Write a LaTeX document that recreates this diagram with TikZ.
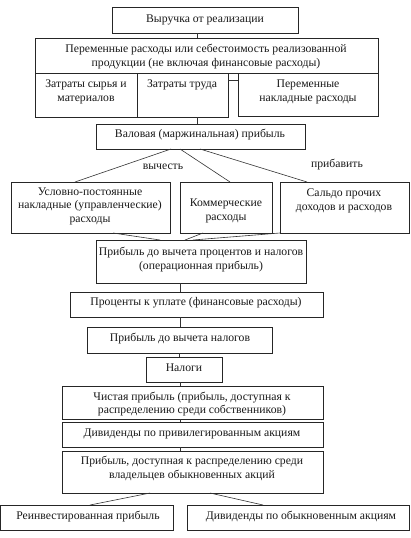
\documentclass[tikz,border=0pt]{standalone}
\usepackage{fontspec}
\setmainfont{Liberation Serif}
\begin{document}
\begin{tikzpicture}[x=1pt,y=-1pt,
  box/.style={draw=black!85, line width=0.7pt, inner sep=0pt, outer sep=0pt, anchor=north west},
  txt/.style={inner sep=0pt, align=center, font=\fontsize{11.7}{13.5}\selectfont, text=black!90},
  conn/.style={draw=black!80, line width=0.6pt}]
\useasboundingbox[fill=white] (0,0) rectangle (410,538);
% boxes: x0,y0, width, height
\newcommand{\mybox}[5]{\node[box, minimum width=#4pt, minimum height=#5pt] (#1) at (#2,#3) {};}
\mybox{b1}{112}{7}{186}{26}
\mybox{b2}{35}{38}{343}{35}
\mybox{b2a}{35}{73}{102}{44}
\mybox{b2b}{137}{73}{91}{44}
\mybox{b2c}{238}{73}{140}{43}
\mybox{b3}{96}{124}{209}{25}
\mybox{b4a}{11}{182}{159}{51}
\mybox{b4b}{180}{182}{92}{51}
\mybox{b4c}{280}{182}{129}{51}
\mybox{b5}{96}{240}{210}{43}
\mybox{b6}{70}{292}{253}{25}
\mybox{b7}{87}{327}{185}{26}
\mybox{b8}{146}{357}{76}{25}
\mybox{b9}{62}{386}{261}{33}
\mybox{b10}{62}{422}{261}{25}
\mybox{b11}{62}{451}{261}{42}
\mybox{b12}{0}{505}{173}{25}
\mybox{b13}{187}{505}{222}{25}
% texts
\node[txt] (t1) at (205,20) {Выручка от реализации};
\node[txt] (t2) at (206,56.5) {Переменные расходы или себестоимость реализованной\\продукции (не включая финансовые расходы)};
\node[txt] (t2a) at (86,92) {Затраты сырья и\\материалов};
\node[txt] (t2b) at (182,85) {Затраты труда};
\node[txt] (t2c) at (308,92) {Переменные\\накладные расходы};
\node[txt] (t3) at (200,135) {Валовая (маржинальная) прибыль};
\node[txt] (l1) at (163,167) {вычесть};
\node[txt] (l2) at (337,165) {прибавить};
\node[txt] (t4a) at (90,206) {Условно-постоянные\\накладные (управленческие)\\расходы};
\node[txt] (t4b) at (226,211) {Коммерческие\\расходы};
\node[txt] (t4c) at (344,201) {Сальдо прочих\\доходов и расходов};
\node[txt] (t5) at (201,259.5) {Прибыль до вычета процентов и налогов\\(операционная прибыль)};
\node[txt] (t6) at (196,303) {Проценты к уплате (финансовые расходы)};
\node[txt] (t7) at (180,339) {Прибыль до вычета налогов};
\node[txt] (t8) at (184,368) {Налоги};
\node[txt] (t9) at (192,404) {Чистая прибыль (прибыль, доступная к\\распределению среди собственников)};
\node[txt] (t10) at (192,434) {Дивиденды по привилегированным акциям};
\node[txt] (t11) at (192,468.5) {Прибыль, доступная к распределению среди\\владельцев обыкновенных акций};
\node[txt] (t12) at (88,517) {Реинвестированная прибыль};
\node[txt] (t13) at (301,517) {Дивиденды по обыкновенным акциям};
% connectors
\draw[conn] ([xshift=-8pt]b1.south) -- ([xshift=-8pt]b1.south |- b2.north);
\draw[conn] (b2b.east |- 0,80) -- (b2c.west |- 0,80);
\draw[conn] ([xshift=14.5pt]b2b.south) -- ([xshift=14.5pt]b2b.south |- b3.north);
\draw[conn] ([xshift=-29.5pt]b3.south) -- ([xshift=-15.5pt]b4a.north);
\draw[conn] ([xshift=-20.5pt]b3.south) -- ([xshift=4pt]b4b.north);
\draw[conn] ([xshift=-0.5pt]b3.south) -- ([xshift=-37.5pt]b4c.north);
\draw[conn] ([xshift=22.5pt]b4a.south) -- ([xshift=-41pt]b5.north);
\draw[conn] ([xshift=-23pt]b4b.south) -- ([xshift=-16pt]b5.north);
\draw[conn] (b4c.south west) -- ([xshift=-8pt]b5.north);
\draw[conn] ([xshift=-21pt]b5.south) -- ([xshift=-21pt]b5.south |- b6.north);
\draw[conn] ([xshift=-16.5pt]b6.south) -- ([xshift=-16.5pt]b6.south |- b7.north);
\draw[conn] (b7.south) -- (b7.south |- b8.north);
\draw[conn] ([xshift=-4pt]b8.south) -- ([xshift=-4pt]b8.south |- b9.north);
\draw[conn] ([xshift=-12.5pt]b9.south) -- ([xshift=-12.5pt]b9.south |- b10.north);
\draw[conn] ([xshift=-12.5pt]b10.south) -- ([xshift=-12.5pt]b10.south |- b11.north);
\draw[conn] ([xshift=-42.5pt]b11.south) -- ([xshift=3.5pt]b12.north);
\draw[conn] ([xshift=17.5pt]b11.south) -- ([xshift=-35pt]b13.north);
\end{tikzpicture}
\end{document}
